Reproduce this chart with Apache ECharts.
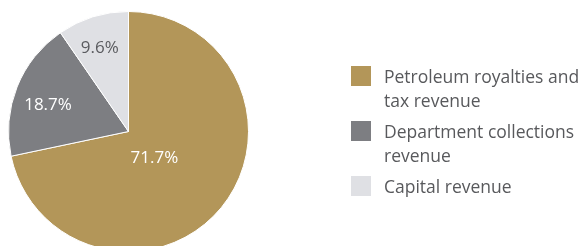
<!DOCTYPE html>
<html>
<head>
<meta charset="utf-8">
<script src="https://cdn.jsdelivr.net/npm/echarts@6/dist/echarts.min.js"></script>
<style>
  html, body { margin: 0; padding: 0; background: #ffffff; }
  #chart { width: 582px; height: 246px; }
</style>
</head>
<body>
<div id="chart"></div>
<script>
// ---- data ----
const categories = [
  'Petroleum royalties and\ntax revenue',
  'Department collections\nrevenue',
  'Capital revenue'
];
const shares = [71.7, 18.7, 9.6];

// ---- styles ----
const sliceColors = ['#b39659', '#7d7e82', '#dfe0e4'];
const labelColors = ['#ffffff', '#ffffff', '#5a5b5f'];
const labelShift = [[-23, -13], [-22, -3], [-10, -23.5]];
const legendTops = [66, 121, 176];
const legendPads = [[28, 0, 0, 8], [28, 0, 0, 8], [4, 0, 0, 8]];
const FONT = '"Open Sans", "Noto Sans", sans-serif';

const chart = echarts.init(document.getElementById('chart'), null, { renderer: 'canvas' });

const pieData = categories.map((name, i) => ({
  name: name,
  value: shares[i],
  itemStyle: { color: sliceColors[i] },
  label: { color: labelColors[i] }
}));

const legends = categories.map((name, i) => ({
  orient: 'vertical',
  left: 351,
  top: legendTops[i],
  padding: 0,
  itemWidth: 20,
  itemHeight: 20,
  icon: 'rect',
  selectedMode: false,
  formatter: n => '{t|' + n + '}',
  textStyle: {
    padding: legendPads[i],
    rich: {
      t: {
        color: '#58595c',
        fontSize: 17.5,
        lineHeight: 24,
        fontFamily: FONT
      }
    }
  },
  data: [{ name: name, itemStyle: { borderWidth: 0 } }]
}));

chart.setOption({
  animation: false,
  legend: legends,
  series: [{
    type: 'pie',
    center: [128.5, 131.5],
    radius: [0, 120],
    startAngle: 90,
    clockwise: true,
    avoidLabelOverlap: false,
    itemStyle: { borderColor: '#ffffff', borderWidth: 1 },
    emphasis: { disabled: true },
    label: {
      show: true,
      position: 'inside',
      fontSize: 17,
      fontFamily: FONT,
      formatter: p => p.value.toFixed(1) + '%'
    },
    labelLine: { show: false },
    labelLayout: p => ({ dx: labelShift[p.dataIndex][0], dy: labelShift[p.dataIndex][1] }),
    data: pieData
  }]
});
</script>
</body>
</html>
